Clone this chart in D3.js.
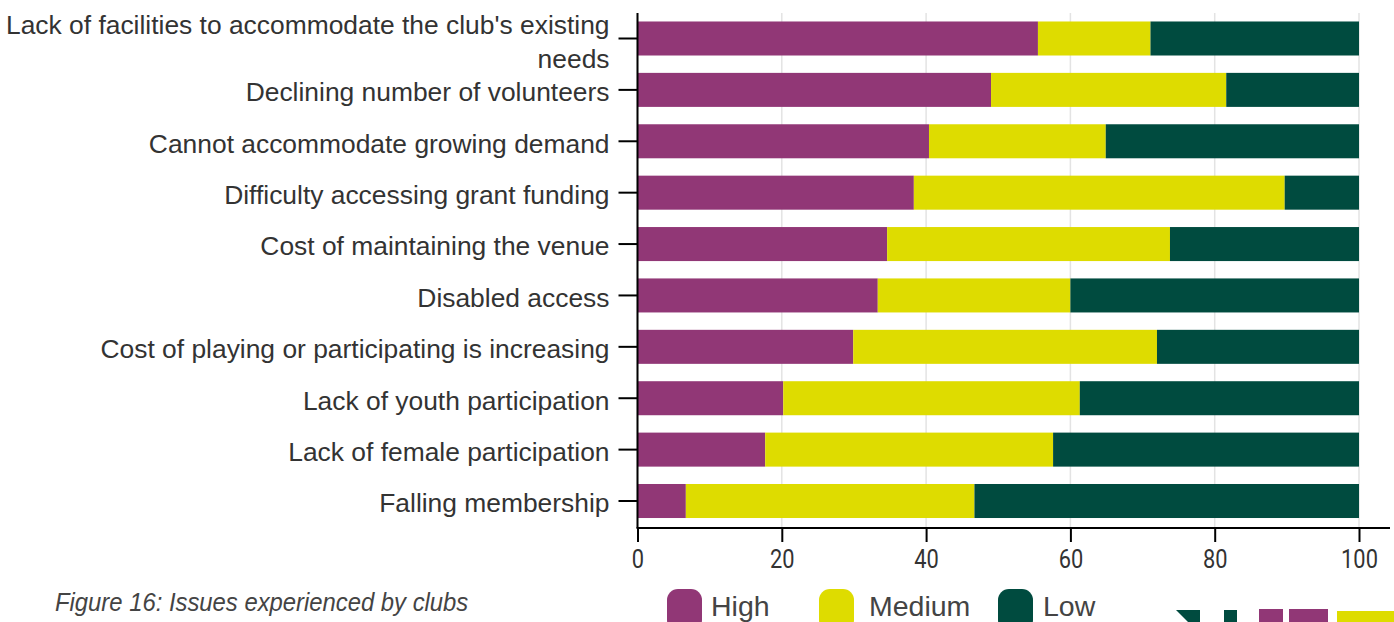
<!DOCTYPE html>
<html>
<head>
<meta charset="utf-8">
<script src="https://cdn.jsdelivr.net/npm/d3@7"></script>
<style>
  html, body { margin: 0; padding: 0; background: #ffffff; }
  svg { display: block; }
</style>
</head>
<body>
<svg id="chart" width="1394" height="622"></svg>
<script>
// Issues experienced by clubs: share of clubs rating each issue High / Medium / Low (%)
const categories = [
  "Lack of facilities to accommodate the club's existing needs",
  "Declining number of volunteers",
  "Cannot accommodate growing demand",
  "Difficulty accessing grant funding",
  "Cost of maintaining the venue",
  "Disabled access",
  "Cost of playing or participating is increasing",
  "Lack of youth participation",
  "Lack of female participation",
  "Falling membership"
];
const highValues   = [55.5, 49.0, 40.4, 38.3, 34.6, 33.3, 29.9, 20.2, 17.7, 6.7];
const mediumValues = [15.6, 32.6, 24.5, 51.4, 39.2, 26.7, 42.1, 41.1, 39.9, 40.0];
const lowValues    = [28.9, 18.4, 35.1, 10.3, 26.2, 40.0, 28.0, 38.7, 42.4, 53.3];
const seriesNames  = ["High", "Medium", "Low"];
const seriesColors = ["#913776", "#DEDC00", "#004B3F"];
const xTickValues  = [0, 20, 40, 60, 80, 100];
const captionText  = "Figure 16: Issues experienced by clubs";

const svg = d3.select("#chart");

// rows for the stack layout
const rows = categories.map((c, i) => ({
  category: c, High: highValues[i], Medium: mediumValues[i], Low: lowValues[i]
}));
const stacked = d3.stack().keys(seriesNames)(rows);

const x = d3.scaleLinear().domain([0, 100]).range([637.5, 1359]);
const y = d3.scaleBand().domain(categories).range([12.8, 526.7])
  .paddingInner(0.338).paddingOuter(0.169);
const color = d3.scaleOrdinal().domain(seriesNames).range(seriesColors);

const plotTop = 13, plotBottom = 528;

// vertical gridlines
svg.append("g")
  .selectAll("line")
  .data(xTickValues)
  .join("line")
  .attr("x1", d => x(d)).attr("x2", d => x(d))
  .attr("y1", plotTop).attr("y2", plotBottom)
  .attr("stroke", "#e3e3e3").attr("stroke-width", 1.5);

// stacked bars
svg.append("g")
  .selectAll("g")
  .data(stacked)
  .join("g")
  .attr("fill", d => color(d.key))
  .selectAll("rect")
  .data(d => d)
  .join("rect")
  .attr("x", d => x(d[0]))
  .attr("width", d => x(d[1]) - x(d[0]))
  .attr("y", d => y(d.data.category))
  .attr("height", y.bandwidth());

// y axis with wrapped category labels
const yAxis = svg.append("g")
  .attr("transform", `translate(${x(0)},0)`)
  .call(d3.axisLeft(y).tickSize(19).tickPadding(9));
yAxis.select(".domain").remove();
yAxis.append("line")
  .attr("x1", 0).attr("x2", 0).attr("y1", plotTop).attr("y2", plotBottom)
  .attr("stroke", "#000").attr("stroke-width", 2);
yAxis.selectAll(".tick line").attr("stroke", "#000").attr("stroke-width", 2);
yAxis.selectAll(".tick text")
  .attr("fill", "#333")
  .style("font-family", "'Liberation Sans', Arial, sans-serif")
  .style("font-size", "26.4px")
  .each(function () {
    const t = d3.select(this);
    const maxW = 610;
    const words = t.text().split(" ");
    t.text(null);
    const lines = [];
    let line = [];
    const probe = t.append("tspan");
    words.forEach(w => {
      line.push(w);
      probe.text(line.join(" "));
      if (probe.node().getComputedTextLength() > maxW && line.length > 1) {
        line.pop();
        lines.push(line.join(" "));
        line = [w];
      }
    });
    lines.push(line.join(" "));
    probe.remove();
    const lh = 34;
    const x0 = t.attr("x");
    lines.forEach((l, i) => {
      t.append("tspan")
        .attr("x", x0)
        .attr("y", lines.length > 1 ? i * lh - 15.5 : 0)
        .attr("dy", "0.43em")
        .text(l);
    });
  });

// x axis
const xAxis = svg.append("g")
  .attr("transform", `translate(0,${plotBottom})`)
  .call(d3.axisBottom(x).tickValues(xTickValues).tickSize(14).tickPadding(8));
xAxis.select(".domain").remove();
xAxis.append("line")
  .attr("x1", x(0) - 1).attr("x2", 1390).attr("y1", 0).attr("y2", 0)
  .attr("stroke", "#000").attr("stroke-width", 2);
xAxis.selectAll(".tick line").attr("stroke", "#000").attr("stroke-width", 2);
xAxis.selectAll(".tick text")
  .attr("fill", "#333")
  .attr("transform", "scale(0.84,1)")
  .style("font-family", "Roboto, sans-serif")
  .style("font-size", "26px");

// legend
const legendX = [667, 819, 998];
const legend = svg.append("g")
  .selectAll("g")
  .data(seriesNames)
  .join("g")
  .attr("transform", (d, i) => `translate(${legendX[i]},589)`);
legend.append("rect")
  .attr("width", 35).attr("height", 42).attr("rx", 11).attr("ry", 11)
  .attr("fill", d => color(d));
legend.append("text")
  .attr("x", (d, i) => [44, 50, 45][i])
  .attr("y", 26.5)
  .attr("fill", "#444")
  .style("font-family", "'Liberation Sans', Arial, sans-serif")
  .style("font-size", "28.5px")
  .text(d => d);

// caption
svg.append("text")
  .attr("transform", "translate(55,611) scale(0.9,1)")
  .attr("fill", "#444")
  .style("font-family", "'Liberation Sans', Arial, sans-serif")
  .style("font-style", "italic")
  .style("font-size", "26.5px")
  .text(captionText);

// brand mark, cropped at the bottom edge
const brand = svg.append("g");
brand.append("path").attr("d", "M1176,610 L1200,610 L1200,622 L1188,622 Z").attr("fill", "#004B3F");
brand.append("rect").attr("x", 1224).attr("y", 610).attr("width", 13).attr("height", 12).attr("fill", "#004B3F");
brand.append("rect").attr("x", 1259).attr("y", 609).attr("width", 24).attr("height", 13).attr("fill", "#913776");
brand.append("rect").attr("x", 1289).attr("y", 609).attr("width", 39).attr("height", 13).attr("fill", "#913776");
brand.append("rect").attr("x", 1337).attr("y", 611).attr("width", 57).attr("height", 11).attr("fill", "#DEDC00");
</script>
</body>
</html>
